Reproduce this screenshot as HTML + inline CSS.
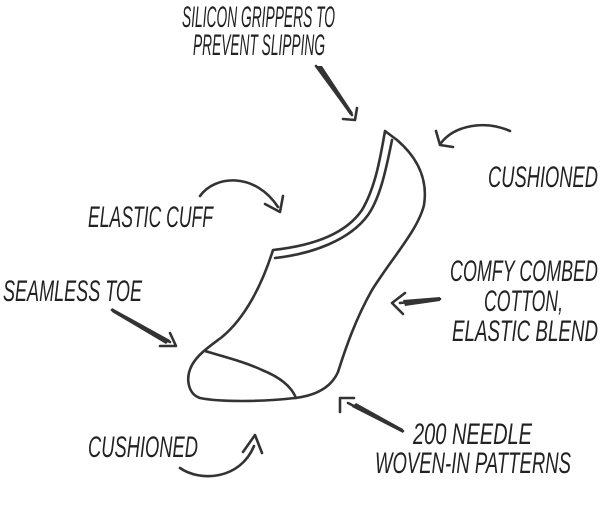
<!DOCTYPE html>
<html><head><meta charset="utf-8"><style>
html,body{margin:0;padding:0;background:#fff;}
svg{display:block}
text{font-family:"Liberation Sans Narrow","Liberation Sans",sans-serif;font-style:italic;fill:#222;font-size:30px;}
</style></head><body>
<svg width="600" height="520" viewBox="0 0 600 520" xmlns="http://www.w3.org/2000/svg">
<g fill="none" stroke="#333" stroke-width="2.6" stroke-linecap="round" stroke-linejoin="round">
<path d="M385,131 L397,140 C418,158 428,180 424,205 C418,230 392,258 372,290 C355,320 345,350 338,372 C330,390 312,396 295,398 C260,402 220,402 200,398 C188,394 185,378 192,365 C198,354 210,346 222,337 C245,318 262,285 273,250 C310,246 345,235 362,210 C375,188 380,160 385,131 Z"/>
<path d="M392,140 C386,170 380,198 368,215 C350,240 312,254 275,258"/>
<path d="M205,351 C225,357 245,362 262,370 C282,378 292,388 296,398"/>
<path d="M316,66 L352,115"/>
<path d="M343,119 L355,120 L357,108"/>
<path d="M510,131 C485,120 455,125 441,143"/>
<path d="M436,131 L440,145 L453,147"/>
<path d="M200,196 C215,175 255,172 278,207"/>
<path d="M265,204 L280,212 L283,196"/>
<path d="M112,310 L170,342"/>
<path d="M160,346 L176,346 L170,333"/>
<path d="M440,299 L400,303"/>
<path d="M405,293 L392,303 L403,314"/>
<path d="M403,431 L348,403"/>
<path d="M340,412 L340,398 L354,398"/>
<path d="M180,468 C200,482 240,480 254,446"/>
<path d="M243,452 L255,435 L262,453"/>
</g>
<g fill="#333" stroke="none">
<path d="M316,66 L322,66 L353,113 L350,115 Z"/>
<path d="M440,297 L440,301 L405,306 L403,300 Z"/>
<path d="M403,429 L403,433 L352,407 L356,403 Z"/>
<path d="M112,308 L170,340 L166,344 L112,312 Z"/>
</g>
<text x="182" y="27" textLength="153" lengthAdjust="spacingAndGlyphs">SILICON GRIPPERS TO</text>
<text x="193" y="55" textLength="132" lengthAdjust="spacingAndGlyphs">PREVENT SLIPPING</text>
<text x="488" y="187" textLength="110" lengthAdjust="spacingAndGlyphs">CUSHIONED</text>
<text x="88" y="227" textLength="125" lengthAdjust="spacingAndGlyphs">ELASTIC CUFF</text>
<text x="3" y="301" textLength="139" lengthAdjust="spacingAndGlyphs">SEAMLESS TOE</text>
<text x="450" y="281" textLength="148" lengthAdjust="spacingAndGlyphs">COMFY COMBED</text>
<text x="484" y="311" textLength="79" lengthAdjust="spacingAndGlyphs">COTTON,</text>
<text x="452" y="341" textLength="146" lengthAdjust="spacingAndGlyphs">ELASTIC BLEND</text>
<text x="88" y="457" textLength="110" lengthAdjust="spacingAndGlyphs">CUSHIONED</text>
<text x="413" y="444" textLength="119" lengthAdjust="spacingAndGlyphs">200 NEEDLE</text>
<text x="375" y="473" textLength="196" lengthAdjust="spacingAndGlyphs">WOVEN-IN PATTERNS</text>
</svg>
</body></html>
